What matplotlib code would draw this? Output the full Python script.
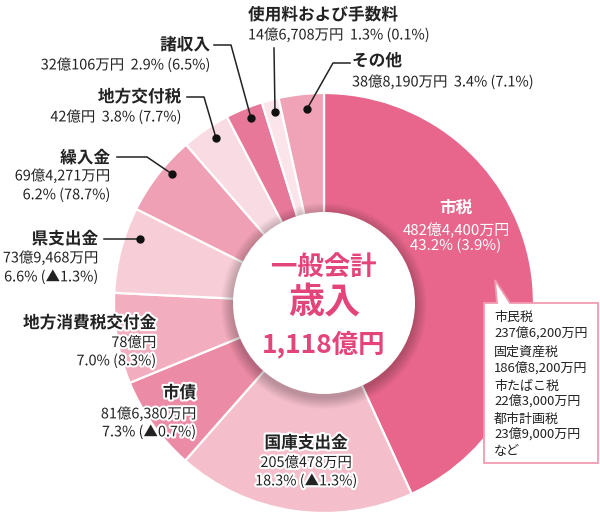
import numpy as np
import matplotlib.pyplot as plt
from matplotlib.patches import Circle, Polygon
import matplotlib.patheffects as pe

plt.rcParams['font.family'] = ['Noto Sans CJK JP', 'DejaVu Sans']

# 歳入 (億円), clockwise from 12 o'clock
names = ['市税', '国庫支出金', '市債', '地方消費税交付金', '県支出金',
         '繰入金', '地方交付税', '諸収入', '使用料および手数料', 'その他']
amounts = [482.44, 205.0478, 81.638, 78.0, 73.9468,
           69.4271, 42.0, 32.0106, 14.6708, 38.819]
amount_txt = ['482億4,400万円', '205億478万円', '81億6,380万円', '78億円', '73億9,468万円',
              '69億4,271万円', '42億円', '32億106万円', '14億6,708万円', '38億8,190万円']
share_txt = ['43.2% (3.9%)', '18.3% (▲1.3%)', '7.3% (▲0.7%)', '7.0% (8.3%)', '6.6% (▲1.3%)',
             '6.2% (78.7%)', '3.8% (7.7%)', '2.9% (6.5%)', '1.3% (0.1%)', '3.4% (7.1%)']
colors = ['#E8668C', '#F5BECB', '#EC8BA5', '#F2AEBF', '#F7CED8',
          '#EFA0B4', '#F9DCE3', '#E8789A', '#FBE4EA', '#F0A3B6']

tax_items = ['市民税', '237億6,200万円', '固定資産税', '186億8,200万円',
             '市たばこ税', '22億3,000万円', '都市計画税', '23億9,000万円', 'など']

W, H = 600, 519
cx, cy, R, r_in = 324, 303, 210, 91
pink = '#E3457B'
halo = [pe.withStroke(linewidth=3, foreground='white')]

fig = plt.figure(figsize=(6, 5.19), dpi=100)
ax = fig.add_axes([0, 0, 1, 1])

# y axis is flipped below, so startangle=-90 is the top and counterclock runs clockwise on screen
ax.pie(amounts, colors=colors, startangle=-90, counterclock=True,
       center=(cx, cy), radius=R,
       wedgeprops=dict(edgecolor='white', linewidth=1.6))
ax.set_xlim(0, W)
ax.set_ylim(H, 0)
ax.set_aspect('equal')
ax.axis('off')

# soft shadow + white centre
for k in range(12, 0, -1):
    ax.add_patch(Circle((cx, cy + 3), r_in + k, color='black', alpha=0.018, lw=0, zorder=3))
ax.add_patch(Circle((cx, cy), r_in, color='white', lw=0, zorder=4))
ax.text(cx, 268, '一般会計', ha='center', va='center', fontsize=19, fontweight='bold', color=pink, zorder=5)
ax.text(cx, 302, '歳入', ha='center', va='center', fontsize=26, fontweight='bold', color=pink, zorder=5)
ax.text(cx, 344, '1,118億円', ha='center', va='center', fontsize=19, fontweight='bold', color=pink, zorder=5)

bfs, sfs = 12, 10.4


def label(i, x, y, ha, lines_y, two_lines=True, stroke=True, color='#222222', fs=sfs):
    pe_ = halo if stroke else None
    ax.text(x, y, names[i], ha=ha, va='center', fontsize=bfs, fontweight='bold',
            color=color, path_effects=pe_, zorder=6)
    if two_lines:
        ax.text(x, lines_y[0], amount_txt[i], ha=ha, va='center', fontsize=fs,
                color=color, path_effects=pe_, zorder=6)
        ax.text(x, lines_y[1], share_txt[i], ha=ha, va='center', fontsize=fs,
                color=color, path_effects=pe_, zorder=6)
    else:
        ax.text(x, lines_y[0], amount_txt[i] + '  ' + share_txt[i], ha=ha, va='center',
                fontsize=fs, color=color, path_effects=pe_, zorder=6)


label(0, 456, 208, 'center', (229, 246), stroke=False, color='white', fs=10.8)
label(1, 306, 443, 'center', (463, 481))
label(2, 196, 393, 'right', (414, 432))
label(3, 156, 323, 'right', (343, 361))
label(4, 98, 239, 'right', (258, 277))
label(5, 110, 158, 'right', (176, 195))
label(6, 181, 97, 'right', (117,), two_lines=False)
label(7, 210, 45, 'right', (65,), two_lines=False)
label(8, 248, 15, 'left', (35,), two_lines=False)
label(9, 352, 61, 'left', (82,), two_lines=False)

# leader lines
leaders = [
    [(104, 239), (140, 239)],
    [(117, 157), (147, 157), (172, 174)],
    [(187, 97), (204, 97), (216, 138)],
    [(214, 45), (231, 45), (251, 118)],
    [(274, 48), (275, 112)],
    [(350, 63), (333, 63), (307, 109)],
]
for pts in leaders:
    xs, ys = zip(*pts)
    ax.plot(xs, ys, color='#222222', lw=1.1, zorder=6)
    ax.plot(xs[-1], ys[-1], 'o', color='#111111', ms=5, zorder=7)

# callout box for 市税
box = Polygon([(484, 303), (497, 303), (495, 280), (510, 303), (598, 303),
               (598, 463), (484, 463)], closed=True, facecolor='white',
              edgecolor='#F19BB2', lw=1.3, zorder=6)
ax.add_patch(box)
ty = [317, 333, 352, 368, 386, 401, 419, 434, 451]
for t, yy in zip(tax_items, ty):
    ax.text(494, yy, t, ha='left', va='center', fontsize=9.4, color='#222222', zorder=7)

fig.savefig('out.png', dpi=100)
